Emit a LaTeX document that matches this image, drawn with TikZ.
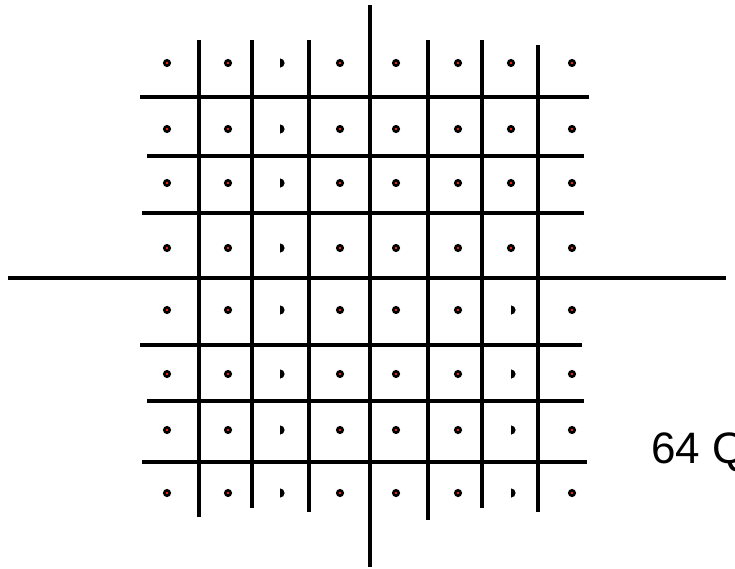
\documentclass[tikz,border=0pt]{standalone}
\usepackage{fontspec}
\setmainfont{Liberation Sans}
\usepackage{tikz}
\definecolor{dotred}{RGB}{255,45,0}

\begin{document}
\begin{tikzpicture}[x=0.75pt, y=-0.75pt,
        grid/.style = {line width=2.3pt},
        pt/.style = {draw, circle, fill=dotred, line width=2pt, minimum size=4pt, inner sep=0pt},
        label/.style = {anchor=base west, inner sep=0pt, font=\fontsize{33}{36}\selectfont}]
    \useasboundingbox (0,0) rectangle (735,568);

    % axes
    \coordinate (top) at (370,5);
    \coordinate (bottom) at (370,567);
    \coordinate (left) at (8,278);
    \coordinate (right) at (726,278);
    \draw[grid] (top) -- (bottom);
    \draw[grid] (left) -- (right);

    % decision lines
    \foreach \x/\ya/\yb in {199/40/517, 252/40/508, 309/40/512, 428/40/520, 482/40/508, 538/45/512}
        \draw[grid] (\x,\ya) -- (\x,\yb);
    \foreach \y/\xa/\xb in {97/140/589, 156/147/584, 213/142/584, 345/140/582, 401/147/584, 462/142/587}
        \draw[grid] (\xa,\y) -- (\xb,\y);

    % constellation points
    \foreach \y [count=\r] in {63,129,183,248,310,374,430,493}
        \foreach \x [count=\c] in {167,228,280,340,396,458,511,572} {
            \pgfmathtruncatemacro{\half}{(\c==3) || (\c==7 && \r>4)}
            \ifnum\half=1
                \coordinate (p\r\c) at (\x,\y);
                \fill (\x,\y+4.6) arc[start angle=90, end angle=-90, radius=4.6] -- cycle;
            \else
                \node[pt] (p\r\c) at (\x,\y) {};
            \fi
        }

    \node[label] (name) at (651,463) {64 Q};
\end{tikzpicture}
\end{document}
